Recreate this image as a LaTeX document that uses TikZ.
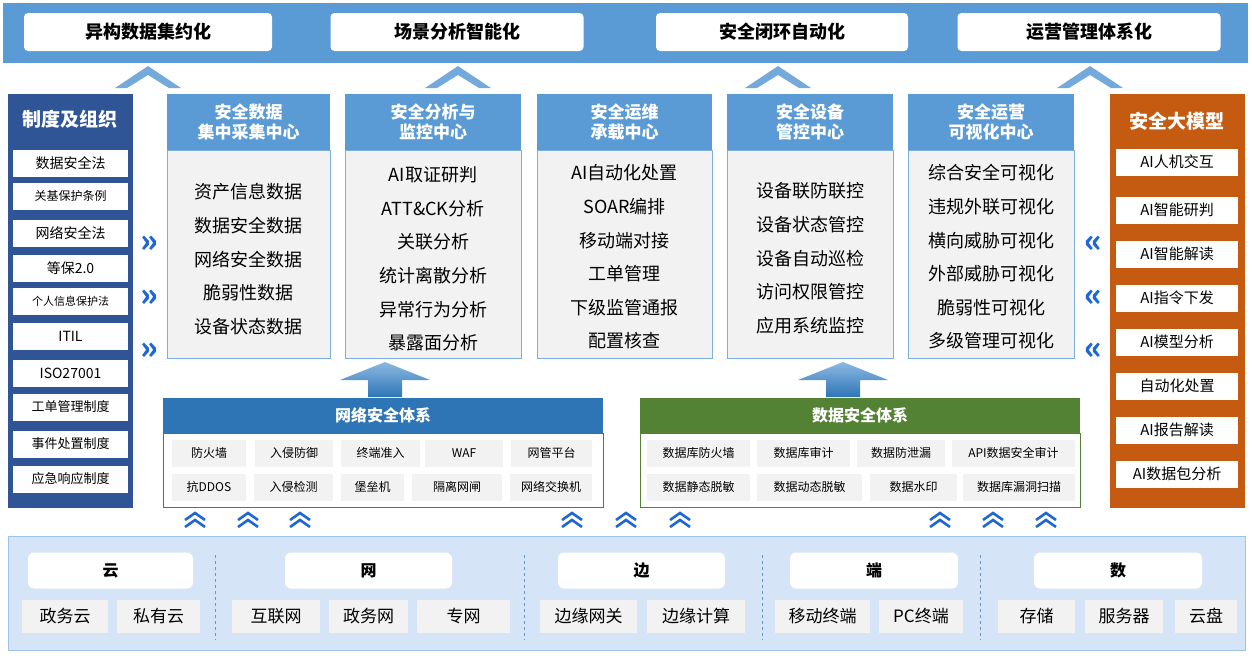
\documentclass[tikz,border=0pt]{standalone}
\usepackage{fontspec}
\setmainfont{Noto Sans CJK SC}
\usepackage{tikz}
\usetikzlibrary{positioning, calc}
\definecolor{barblue}{RGB}{91,155,213}
\definecolor{navy}{RGB}{47,85,151}
\definecolor{rust}{RGB}{197,90,17}
\definecolor{netblue}{RGB}{46,117,182}
\definecolor{datagreen}{RGB}{84,130,53}
\definecolor{cellgray}{RGB}{242,242,242}
\definecolor{baseblue}{RGB}{214,228,247}
\definecolor{chev}{RGB}{31,102,214}
\tikzstyle{goal} = [rectangle, rounded corners=4pt, fill=white, minimum width=248pt, minimum height=38pt, font=\fontsize{18}{20}\selectfont\bfseries]
\tikzstyle{rule} = [rectangle, fill=white, minimum width=115pt, minimum height=27pt, font=\fontsize{14}{16}\selectfont, inner sep=1pt]
\tikzstyle{head} = [rectangle, fill=barblue, text=white, align=center, font=\fontsize{17}{20}\selectfont\bfseries, inner sep=0pt]
\tikzstyle{body} = [rectangle, fill=cellgray, draw=barblue!80, inner sep=0pt]
\tikzstyle{item} = [font=\fontsize{18}{20}\selectfont]
\tikzstyle{cell} = [rectangle, fill=cellgray, minimum height=27pt, font=\fontsize{12}{14}\selectfont, inner sep=1pt]
\tikzstyle{group} = [rectangle, rounded corners=6pt, fill=white, minimum width=166pt, minimum height=36pt, font=\fontsize{16}{19}\selectfont\bfseries]
\tikzstyle{base} = [rectangle, fill=cellgray, minimum height=33pt, font=\fontsize{17}{19}\selectfont, inner sep=1pt]
\begin{document}
\begin{tikzpicture}[x=1pt, y=-1pt]
    \useasboundingbox (0,0) rectangle (1252,657);
    % Top goals
    \fill[barblue] (3,3) rectangle (1248,63);
    \node[goal] (hetero) at (148,32) {异构数据集约化};
    \node[goal, minimum width=253pt] (scene) at (457,32) {场景分析智能化};
    \node[goal, minimum width=252pt] (loop) at (782,32) {安全闭环自动化};
    \node[goal, minimum width=263pt] (ops) at (1089,32) {运营管理体系化};
    \foreach \x/\n in {148/a, 458/b, 778/c, 1090/d} {
        \coordinate (roof\n) at (\x,66);
        \fill[barblue!85] (roof\n) -- ++(33,22) -- ++(-12,0) -- ++(-21,-13) -- ++(-21,13) -- ++(-12,0) -- cycle;
    }

    % Left panel
    \fill[navy] (8,94) rectangle (133,508);
    \node[text=white, font=\fontsize{19}{22}\selectfont\bfseries] (org) at (70,119) {制度及组织};
    \foreach \t/\y/\s in {数据安全法/163/14, 关基保护条例/196/12, 网络安全法/233/14, 等保2.0/268/14, 个人信息保护法/301/11,
        ITIL/336/14, ISO27001/373/14, 工单管理制度/407/13, 事件处置制度/444/13, 应急响应制度/479/13} {
        \node[rule, font=\fontsize{\s}{16}\selectfont] (rule\y) at (70.5,\y) {\t};
    }
    \foreach \y in {246,300,353}
        \node[text=chev, font=\fontsize{32}{32}\selectfont\bfseries] (in\y) at (149,\y-2) {»};

    % Right panel
    \fill[rust] (1110,94) rectangle (1245,508);
    \node[text=white, font=\fontsize{19}{22}\selectfont\bfseries] (llm) at (1177,121) {安全大模型};
    \foreach \t/\y in {AI人机交互/162, AI智能研判/210, AI智能解读/254, AI指令下发/298, AI模型分析/342, 自动化处置/386, AI报告解读/430, AI数据包分析/474} {
        \node[rule, minimum width=122pt, font=\fontsize{15}{17}\selectfont] (ai\y) at (1177,\y) {\t};
    }
    \foreach \y in {246,300,353}
        \node[text=chev, font=\fontsize{32}{32}\selectfont\bfseries] (out\y) at (1093,\y-2) {«};

    % Five centres
    \foreach \n/\xa/\xb/\h/\ys/\items in {
        c1/167/330/{安全数据\\集中采集中心}/192/{资产信息数据,数据安全数据,网络安全数据,脆弱性数据,设备状态数据},
        c2/345/521/{安全分析与\\监控中心}/175/{AI取证研判,ATT\&CK分析,关联分析,统计离散分析,异常行为分析,暴露面分析},
        c3/537/712/{安全运维\\承载中心}/173/{AI自动化处置,SOAR编排,移动端对接,工单管理,下级监管通报,配置核查},
        c4/727/893/{安全设备\\管控中心}/191/{设备联防联控,设备状态管控,设备自动巡检,访问权限管控,应用系统监控},
        c5/908/1074/{安全运营\\可视化中心}/173/{综合安全可视化,违规外联可视化,横向威胁可视化,外部威胁可视化,脆弱性可视化,多级管理可视化}} {
        \node[body, minimum width=\xb-\xa, minimum height=208pt] (\n body) at ({(\xa+\xb)/2},254) {};
        \node[head, minimum width=\xb-\xa, minimum height=56pt] (\n head) at ({(\xa+\xb)/2},122) {\h};
        \foreach \t [count=\i] in \items
            \node[item] (\n i\i) at ({(\xa+\xb)/2},{\ys+33.6*(\i-1)}) {\t};
    }

    % Big arrows up
    \foreach \x/\n in {385/net, 843/dat} {
        \coordinate (lift\n) at (\x,362);
        \shade[top color=barblue!70, bottom color=netblue] (lift\n) -- ++(45,18) -- ++(-28,0) -- ++(0,17) -- ++(-34,0) -- ++(0,-17) -- ++(-28,0) -- cycle;
    }

    % Network security system
    \node[rectangle, fill=netblue, minimum width=440pt, minimum height=35pt, text=white, font=\fontsize{16}{19}\selectfont\bfseries] (netsys) at (383,415.5) {网络安全体系};
    \node[rectangle, draw=netblue, fill=white, minimum width=440pt, minimum height=74pt, anchor=north] (netbody) at (netsys.south) {};
    \foreach \t/\xa/\xb/\y in {防火墙/172/246/453, 入侵防御/255/333/453, 终端准入/341/420/453, WAF/425/503/453, 网管平台/511/592/453,
        抗DDOS/172/246/487, 入侵检测/254/333/487, 堡垒机/341/404/487, 隔离网闸/412/502/487, 网络交换机/510/592/487} {
        \node[cell, minimum width=\xb-\xa] (n\xa\y) at ({(\xa+\xb)/2},\y) {\t};
    }

    % Data security system
    \node[rectangle, fill=datagreen, minimum width=440pt, minimum height=35pt, text=white, font=\fontsize{16}{19}\selectfont\bfseries] (datsys) at (860,415.5) {数据安全体系};
    \node[rectangle, draw=datagreen, fill=white, minimum width=440pt, minimum height=74pt, anchor=north] (datbody) at (datsys.south) {};
    \foreach \t/\xa/\xb/\y in {数据库防火墙/647/750/453, 数据库审计/757/850/453, 数据防泄漏/857/945/453, API数据安全审计/952/1075/453,
        数据静态脱敏/647/750/487, 数据动态脱敏/757/862/487, 数据水印/870/957/487, 数据库漏洞扫描/963/1075/487} {
        \node[cell, minimum width=\xb-\xa] (d\xa\y) at ({(\xa+\xb)/2},\y) {\t};
    }

    % Small chevrons
    \foreach \x in {195,248,300,572,626,680,940,993,1046} {
        \coordinate (up\x) at (\x,513);
        \foreach \dy in {0,7}
            \draw[chev, line width=2.6pt] ($(up\x)+(-10,\dy+7)$) -- ($(up\x)+(0,\dy)$) -- ($(up\x)+(10,\dy+7)$);
    }

    % Base layer
    \fill[baseblue] (8,536) rectangle (1245,650);
    \draw[barblue!60] (8,536) rectangle (1245,650);
    \foreach \x in {215,524,762,980}
        \draw[barblue, dashed] (\x,555) -- (\x,640);
    \node[group, minimum width=165pt] (cloud) at (110.5,570.5) {云};
    \node[group, minimum width=167pt] (net) at (368.5,570.5) {网};
    \node[group, minimum width=167pt] (edge) at (641.5,570.5) {边};
    \node[group, minimum width=168pt] (term) at (874,570.5) {端};
    \node[group, minimum width=168pt] (data) at (1118,570.5) {数};
    \foreach \t/\xa/\xb in {政务云/22/108, 私有云/117/200, 互联网/232/320, 政务网/329/408, 专网/417/510, 边缘网关/540/637, 边缘计算/647/745,
        移动终端/775/870, PC终端/879/963, 存储/998/1075, 服务器/1085/1163, 云盘/1175/1237} {
        \node[base, minimum width=\xb-\xa] (b\xa) at ({(\xa+\xb)/2},616) {\t};
    }
\end{tikzpicture}
\end{document}
